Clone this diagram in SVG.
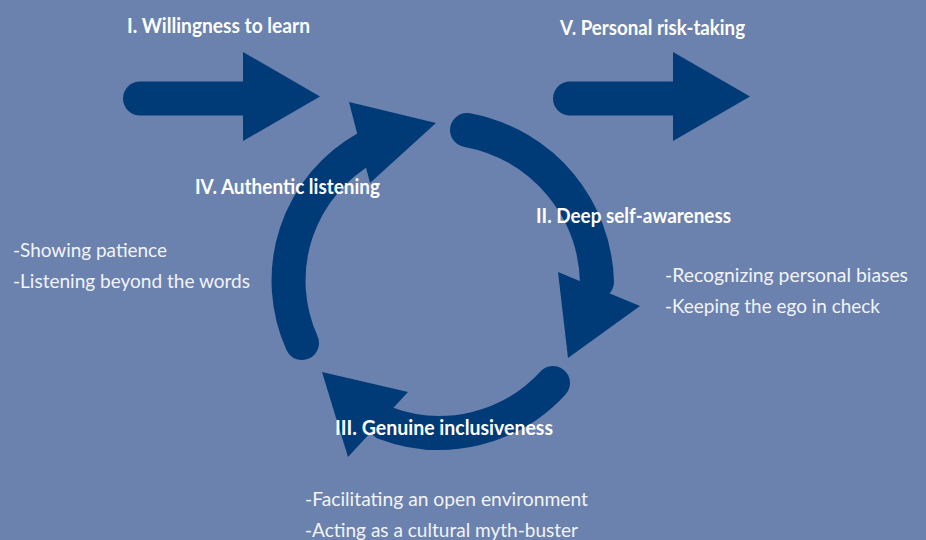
<svg xmlns="http://www.w3.org/2000/svg" width="926" height="540" viewBox="0 0 926 540">
  <style>
    .band { fill: none; stroke: #013b77; stroke-width: 34; stroke-linecap: round; }
    .head { fill: #013b77; }
    .title { font-family: Lato, "Open Sans", sans-serif; font-weight: bold; font-size: 20px; fill: #ffffff; }
    .note { font-family: Lato, "Open Sans", sans-serif; font-size: 19px; fill: #f2f4f9; }
  </style>
  <rect width="926" height="540" fill="#6b81ae"/>

  <g id="connectors">
    <!-- entry arrow -->
    <g id="arrow-in">
      <line class="band" x1="140" y1="98.5" x2="250" y2="98.5"/>
      <polygon class="head" points="243,52 320,96.5 243,141"/>
    </g>
    <!-- exit arrow -->
    <g id="arrow-out">
      <line class="band" x1="570" y1="98.5" x2="680" y2="98.5"/>
      <polygon class="head" points="673,52 750,96.5 673,141"/>
    </g>
    <!-- cycle: I -> II -->
    <g id="arc-2">
      <path class="band" d="M467,130 C545,145 595,210 597,282"/>
      <polygon class="head" points="558,272 640,306 568,358"/>
    </g>
    <!-- cycle: II -> III -->
    <g id="arc-3">
      <path class="band" d="M553,383 A154 154 0 0 1 385,423"/>
      <polygon class="head" points="408,392 348,457 322,372"/>
    </g>
    <!-- cycle: III -> IV -->
    <g id="arc-4">
      <path class="band" d="M302,343 A152 152 0 0 1 366,148"/>
      <polygon class="head" points="349,102 436,123 370,183"/>
    </g>
  </g>

  <g id="node-1">
    <text class="title" x="127" y="33" textLength="183" lengthAdjust="spacingAndGlyphs">I. Willingness to learn</text>
  </g>
  <g id="node-2">
    <text class="title" x="536" y="223" textLength="195" lengthAdjust="spacingAndGlyphs">II. Deep self-awareness</text>
    <text class="note" x="665" y="282" textLength="243" lengthAdjust="spacingAndGlyphs">-Recognizing personal biases</text>
    <text class="note" x="665" y="313" textLength="215" lengthAdjust="spacingAndGlyphs">-Keeping the ego in check</text>
  </g>
  <g id="node-3">
    <text class="title" x="335" y="435" textLength="218" lengthAdjust="spacingAndGlyphs">III. Genuine inclusiveness</text>
    <text class="note" x="305" y="506" textLength="283" lengthAdjust="spacingAndGlyphs">-Facilitating an open environment</text>
    <text class="note" x="305" y="537" textLength="273" lengthAdjust="spacingAndGlyphs">-Acting as a cultural myth-buster</text>
  </g>
  <g id="node-4">
    <text class="title" x="195" y="194" textLength="185" lengthAdjust="spacingAndGlyphs">IV. Authentic listening</text>
    <text class="note" x="13" y="257" textLength="154" lengthAdjust="spacingAndGlyphs">-Showing patience</text>
    <text class="note" x="13" y="288" textLength="237" lengthAdjust="spacingAndGlyphs">-Listening beyond the words</text>
  </g>
  <g id="node-5">
    <text class="title" x="560" y="35" textLength="185" lengthAdjust="spacingAndGlyphs">V. Personal risk-taking</text>
  </g>
</svg>
